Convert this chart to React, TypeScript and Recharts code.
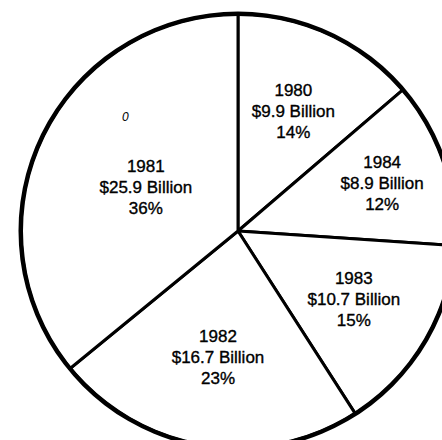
import { PieChart, Pie, Cell } from "recharts";

// clockwise from 12 o'clock
const years = ["1980", "1984", "1983", "1982", "1981"];
const billions = [9.9, 8.9, 10.7, 16.7, 25.9];

const data = years.map((year, i) => ({ year, value: billions[i] }));

const CX = 238;
const CY = 231;
const R = 217;
const FONT = "'Liberation Sans', Arial, Helvetica, sans-serif";

// how far out each label sits, as a share of the radius
const labelReach = [0.61, 0.7, 0.62, 0.59, 0.47];

const RADIAN = Math.PI / 180;

function SliceLabel(props: any) {
  const { cx, cy, midAngle, outerRadius, index, percent } = props;
  const r = outerRadius * labelReach[index];
  const x = cx + r * Math.cos(-midAngle * RADIAN);
  // +6 puts the visual middle of the centre line on the anchor point
  const y = cy + r * Math.sin(-midAngle * RADIAN) + 6;
  const d = data[index];
  return (
    <text
      x={x}
      y={y}
      textAnchor="middle"
      fill="#000"
      stroke="#000"
      strokeWidth={0.35}
      fontFamily={FONT}
      fontSize={17}
    >
      <tspan x={x} dy={-21}>{d.year}</tspan>
      <tspan x={x} dy={21}>{`$${d.value.toFixed(1)} Billion`}</tspan>
      <tspan x={x} dy={21}>{`${Math.round(percent * 100)}%`}</tspan>
    </text>
  );
}

export default function App() {
  return (
    <div style={{ position: "absolute", left: 0, top: 0, width: 442, height: 440, background: "#fff", overflow: "hidden" }}>
      <PieChart width={442} height={440} margin={{ top: 0, right: 0, bottom: 0, left: 0 }}>
        <Pie
          data={data}
          dataKey="value"
          nameKey="year"
          cx={CX}
          cy={CY}
          outerRadius={R}
          startAngle={90}
          endAngle={-270}
          stroke="#000"
          strokeWidth={3}
          label={SliceLabel}
          labelLine={false}
          isAnimationActive={false}
        >
          {data.map((d) => (
            <Cell key={d.year} fill="#fff" />
          ))}
        </Pie>
        <Pie
          data={[{ value: 1 }]}
          dataKey="value"
          cx={CX}
          cy={CY}
          innerRadius={R - 2}
          outerRadius={R + 2.5}
          startAngle={90}
          endAngle={-270}
          fill="#000"
          stroke="none"
          isAnimationActive={false}
        />
      </PieChart>
      <span
        style={{ position: "absolute", left: 122, top: 110, fontFamily: FONT, fontStyle: "italic", fontSize: 12, color: "#000" }}
      >
        0
      </span>
    </div>
  );
}
